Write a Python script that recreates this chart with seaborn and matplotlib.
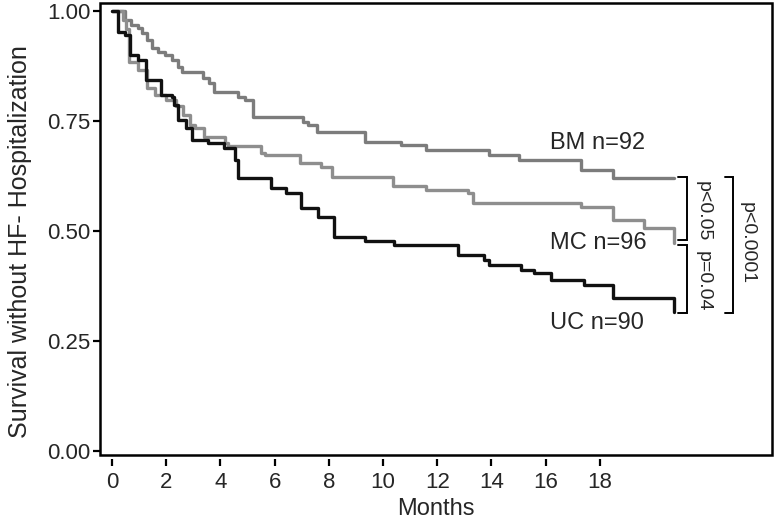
import numpy as np
import pandas as pd
import matplotlib
matplotlib.use("Agg")
import matplotlib.pyplot as plt
from matplotlib.patches import Rectangle
import seaborn as sns

# Kaplan-Meier step points (month of drop, survival after drop)
bm_months = [0, 0.48, 0.72, 0.97, 1.12, 1.28, 1.46, 1.71, 1.95, 2.23, 2.42, 2.59, 3.36, 3.57, 3.77,
             4.65, 4.92, 5.21, 7.06, 7.24, 7.55, 9.33, 10.67, 11.59, 13.92, 15.03, 17.3, 18.47, 20.75]
bm_surv = [1.0, 0.979, 0.968, 0.961, 0.949, 0.934, 0.915, 0.907, 0.900, 0.889, 0.873, 0.862, 0.847, 0.836, 0.816,
           0.805, 0.798, 0.760, 0.748, 0.741, 0.726, 0.703, 0.695, 0.684, 0.673, 0.661, 0.639, 0.620, 0.620]

mc_months = [0, 0.42, 0.52, 0.64, 0.97, 1.28, 1.6, 2.01, 2.38, 2.62, 2.87, 3.05, 3.40, 4.16, 4.28,
             5.51, 5.64, 6.95, 7.7, 8.12, 10.36, 11.59, 13.12, 13.31, 17.3, 18.47, 19.63, 20.75]
mc_surv = [1.0, 0.980, 0.960, 0.885, 0.866, 0.824, 0.809, 0.798, 0.783, 0.764, 0.741, 0.733, 0.714, 0.699, 0.692,
           0.677, 0.673, 0.654, 0.646, 0.623, 0.602, 0.593, 0.586, 0.563, 0.554, 0.525, 0.506, 0.472]

uc_months = [0, 0.21, 0.5, 0.65, 0.97, 1.27, 1.8, 2.2, 2.3, 2.42, 2.75, 2.96, 3.55, 4.14, 4.53, 4.65,
             5.88, 6.43, 6.99, 7.6, 8.21, 9.32, 10.42, 12.76, 13.74, 13.92, 15.09, 15.58, 16.2, 17.42, 18.47, 20.75]
uc_surv = [1.0, 0.953, 0.945, 0.900, 0.889, 0.843, 0.809, 0.805, 0.786, 0.752, 0.733, 0.707, 0.699, 0.688, 0.661, 0.620,
           0.598, 0.587, 0.553, 0.532, 0.487, 0.478, 0.468, 0.445, 0.434, 0.423, 0.411, 0.404, 0.389, 0.377, 0.347, 0.317]

groups = ["BM", "MC", "UC"]
group_n = [92, 96, 90]
group_colors = ["#7c7c7c", "#8e8e8e", "#111111"]

x_ticks = list(range(0, 19, 2))
y_ticks = [0.0, 0.25, 0.5, 0.75, 1.0]

df = pd.concat([
    pd.DataFrame({"month": bm_months, "surv": bm_surv, "group": "BM"}),
    pd.DataFrame({"month": mc_months, "surv": mc_surv, "group": "MC"}),
    pd.DataFrame({"month": uc_months, "surv": uc_surv, "group": "UC"}),
], ignore_index=True)

sns.set_style("ticks")
plt.rcParams["font.family"] = ["Liberation Sans", "DejaVu Sans"]

fig = plt.figure(figsize=(7.75, 5.19), dpi=100)
ax = fig.add_axes([100 / 775, 64 / 519, 672 / 775, 452 / 519])

sns.lineplot(data=df, x="month", y="surv", hue="group", hue_order=groups,
             palette=dict(zip(groups, group_colors)), drawstyle="steps-post",
             estimator=None, sort=False, linewidth=2.4, legend=False, ax=ax)

ax.set_xlim(-0.44, 24.35)
ax.set_ylim(-0.009, 1.018)
ax.set_xticks(x_ticks)
ax.set_yticks(y_ticks)
ax.set_yticklabels([f"{v:.2f}" for v in y_ticks])
ax.tick_params(axis="both", labelsize=16, width=1.6, length=5, color="black")
ax.tick_params(axis="x", pad=4)
ax.tick_params(axis="y", pad=2)

# frame box drawn by hand; bottom ticks sit a little below the frame
for s in ax.spines.values():
    s.set_visible(False)
ax.spines["bottom"].set_position(("outward", 3))
ax.add_patch(Rectangle((0, 0), 1, 1, transform=ax.transAxes, fill=False,
                       lw=1.8, ec="black", clip_on=False, zorder=5))

ax.set_xlabel("Months", fontsize=17, labelpad=4)
ax.set_ylabel("Survival without HF- Hospitalization", fontsize=18)
ax.yaxis.set_label_coords(-0.101, 0.473)

# group labels
label_y = [0.70, 0.473, 0.291]
for g, n, yy in zip(groups, group_n, label_y):
    ax.text(16.16, yy, f"{g} n={n}", fontsize=17, ha="left", va="center")

# comparison brackets
def bracket(x, y0, y1, arm=0.3):
    ax.plot([x - arm, x, x, x - arm], [y0, y0, y1, y1], color="black", lw=1.4,
            solid_joinstyle="miter")

bracket(21.2, 0.623, 0.479)
bracket(21.2, 0.468, 0.314)
bracket(22.9, 0.623, 0.314)
ax.text(21.8, 0.545, "p<0.05", rotation=270, fontsize=14, ha="center", va="center")
ax.text(21.8, 0.385, "p=0.04", rotation=270, fontsize=14, ha="center", va="center")
ax.text(23.45, 0.473, "p<0.0001", rotation=270, fontsize=14, ha="center", va="center")

fig.savefig("out.png", dpi=100)
